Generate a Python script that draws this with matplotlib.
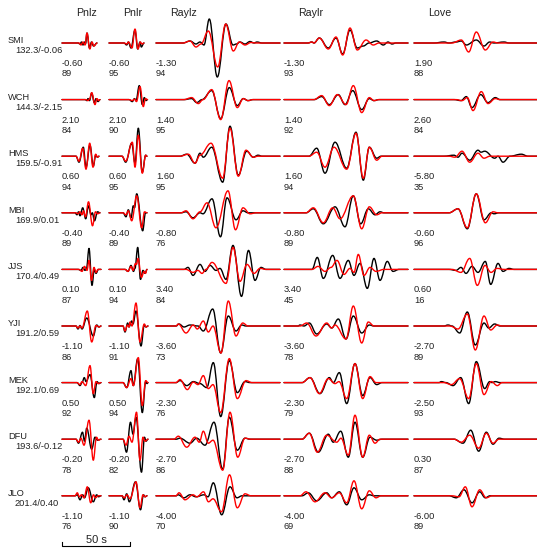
import matplotlib
matplotlib.use("Agg")
import matplotlib.pyplot as plt
from matplotlib.path import Path
from matplotlib.patches import PathPatch

plt.rcParams['font.family'] = ['Liberation Sans', 'DejaVu Sans']

# ---------------- data ----------------
stations = ['SMI', 'WCH', 'HMS', 'MBI', 'JJS', 'YJI', 'MEK', 'DFU', 'JLO']
dist_az = ['132.3/-0.06', '144.3/-2.15', '159.5/-0.91', '169.9/0.01', '170.4/0.49',
           '191.2/0.59', '192.1/0.69', '193.6/-0.12', '201.4/0.40']
components = ['Pnlz', 'Pnlr', 'Raylz', 'Raylr', 'Love']

# time shifts (s) and cross-correlation (%) per component
shift_pnlz = [-0.60, 2.10, 0.60, -0.40, 0.10, -1.10, 0.50, -0.20, -1.10]
shift_pnlr = [-0.60, 2.10, 0.60, -0.40, 0.10, -1.10, 0.50, -0.20, -1.10]
shift_raylz = [-1.30, 1.40, 1.60, -0.80, 3.40, -3.60, -2.30, -2.70, -4.00]
shift_raylr = [-1.30, 1.40, 1.60, -0.80, 3.40, -3.60, -2.30, -2.70, -4.00]
shift_love = [1.90, 2.60, -5.80, -0.60, 0.60, -2.70, -2.50, 0.30, -6.00]
cc_pnlz = [89, 84, 94, 89, 87, 86, 92, 78, 76]
cc_pnlr = [95, 90, 95, 89, 94, 91, 94, 82, 90]
cc_raylz = [94, 95, 95, 76, 84, 73, 76, 86, 70]
cc_raylr = [93, 92, 94, 89, 45, 78, 79, 88, 69]
cc_love = [88, 84, 35, 96, 16, 89, 93, 87, 89]

# waveforms: (time, amplitude) turning points, time unit = 50/68 s
pnlz_obs = [
    [(0,0),(16,0),(18,-1),(19.5,1),(21,-2),(22.5,1),(23.5,-1),(25,10),(27.5,-5),(29.5,1),(31.5,-3),(35,0)],
    [(0,0),(23,0),(25,-1),(26,1),(27.5,-1),(29.7,6.5),(32.3,-3),(34,1),(36,-2),(38,0)],
    [(0,0),(14,0),(17,-6),(21.3,9),(24,-11),(28,11),(31.3,-10),(33.7,1),(35.5,-1),(37,0)],
    [(0,0),(13,0),(15,-2),(16.5,1),(18,-3),(20.7,5),(23.7,-6),(26.5,7),(29,-2),(30.3,0),(32.5,-8),(35.5,1),(38,0)],
    [(0,0),(16,0),(19,-1),(21,2),(23,-1),(24.5,1),(27,21),(30,-16),(32.3,0),(34,-4),(36.5,0),(39,0)],
    [(0,0),(14,0),(16,-3),(18,0.5),(20,-3),(24.7,8),(31.3,-10),(34.7,1),(37,-1),(39,0)],
    [(0,0),(15,0),(18,-3),(20,0),(22.3,5),(24,1),(28,8),(32.3,-15),(35,1),(37,-1),(39,0)],
    [(0,0),(14,0),(16.5,-4),(20.5,7),(22.5,-2),(24.7,11),(29.7,-10),(33,2),(35.5,-1),(39,0)],
    [(0,0),(13,0),(15.3,1),(18,-4),(20.7,1),(22.5,-2),(26.3,8),(31.3,-6),(34.7,1),(36.5,-1),(39,0)],
]
pnlz_syn = [
    [(0,0),(17,0),(19,-2),(21,1),(23,-2),(25,10),(27.8,-6),(30,1),(32,-3),(35,0)],
    [(0,0),(24,0),(26,-1),(27.5,0.5),(29.7,7),(33,-5),(35,1),(36.5,-1),(38,0)],
    [(0,0),(14,0),(17,-5),(20.7,8),(24,-13),(27.7,13),(31,-11),(33.7,2),(35.5,-1),(37,0)],
    [(0,0),(14,0),(16,-1),(18,1),(20,-2),(21.5,2),(23.5,-4),(26.5,11),(30.5,-13),(33.5,1),(35.5,-1),(38,0)],
    [(0,0),(17,0),(20,-2),(22.5,3),(25,-1),(27,9),(29.5,-11),(32,2),(34,-3),(36,0),(39,0)],
    [(0,0),(14,0),(16,-2),(18,0),(20,-2),(25.3,15),(29.7,-16),(34,0.5),(37,-1),(39,0)],
    [(0,0),(15,0),(18,-2),(20,1),(23.7,-3),(28,17),(31.3,-11),(34,1),(36,-1),(39,0)],
    [(0,0),(14,0),(16.5,-3),(19,1),(22,-6),(27,19),(31.3,-21),(34.5,2),(36.5,-1),(39,0)],
    [(0,0),(13,0),(15.3,3),(17.3,-1),(19.5,1),(22,-2),(25.3,9),(28.7,-7),(31.5,1),(33.5,-2),(36,0),(39,0)],
]
pnlr_obs = [
    [(0,0),(15,0),(17.7,-2),(19.3,1),(22,-5),(26,13),(28.7,-6),(31,1),(32.3,-4),(35,0)],
    [(0,0),(20,0),(23.3,-2),(25.5,1),(27,-1),(30.3,14),(33.3,-5),(35.3,2),(37,-1),(38.5,0)],
    [(0,0),(13,0),(16.7,-6),(22.7,13),(26,-7),(29.3,28),(33.3,-16),(36.7,1),(38,0)],
    [(0,0),(14,0),(17,-4),(19.3,3),(22,-5),(24.3,7),(25.5,5),(27.7,19),(33.7,-18),(36.5,0),(38,0)],
    [(0,0),(16,0),(19,-2),(22,4),(24.5,-2),(26,1),(28.7,22),(31.5,-10),(34,-1),(36,-4),(38,0)],
    [(0,0),(14,0),(16,-6),(18.7,3),(20,-1),(22.7,5),(24,2),(27,15),(32,-20),(35.3,1),(37,-1),(39,0)],
    [(0,0),(14,0),(17.7,-5),(22,12),(24.3,-3),(28.7,24),(33.3,-30),(36.7,1),(38,-1),(39,0)],
    [(0,0),(14,0),(17.5,-13),(21.5,17),(24,5),(27,22),(32.5,-33),(35.5,2),(37,-2),(39,0)],
    [(0,0),(13,0),(15,-4),(17.7,2),(20.3,-6),(26.5,14),(31.5,-14),(34.5,1),(36,-1),(38,0)],
]
pnlr_syn = [
    [(0,0),(15,0),(17.7,-1),(19.5,1),(23,-5),(26,14),(29,-6),(31.3,1),(33,-1),(35,0)],
    [(0,0),(20,0),(23.3,-1),(25.5,0.5),(27.5,-2),(31,13),(34.3,-7),(36.5,1),(38.5,0)],
    [(0,0),(13,0),(16.7,-5),(23.3,14),(26,-11),(29.3,21),(33.3,-17),(36.7,1),(38,0)],
    [(0,0),(14,0),(17,-2),(19.3,2),(22.7,-8),(27.7,17),(32.7,-15),(35.5,1),(38,0)],
    [(0,0),(16,0),(19,-2),(22,3),(24,-1),(26.5,6),(27.5,5),(29,11),(32.5,-8),(35,-2),(36.5,-4),(38,0)],
    [(0,0),(14,0),(16,-5),(18.5,1),(20,-1),(21,4),(23,0),(27,23),(31,-16),(35.3,2),(37,-1),(39,0)],
    [(0,0),(14,0),(17.7,-5),(22,4),(24.3,-3),(29.3,25),(33.3,-23),(36.7,2),(39,0)],
    [(0,0),(14,0),(17,-6),(20,3),(23,-3),(27.5,27),(31,-21),(34,2),(36,-2),(39,0)],
    [(0,0),(13,0),(15.3,-2),(18,1),(21,-3),(27,14),(31,-12),(34,1),(36,-1),(38,0)],
]
raylz_obs = [
    [(0,0),(27,0),(34,2),(40,-1),(44,1),(48,-2),(53.3,24),(61.3,-34),(70,19),(77,-2),(80.5,-1),(84,1),(89,-1),(94,1.5),(98,0),(101,1),(106,0),(124,0)],
    [(0,0),(28,0),(35.7,1),(40.7,-3),(46,0),(55.7,9),(64.7,-19),(73.3,12),(81.3,-6),(87.3,1),(92,-1),(97,0),(124,0)],
    [(0,0),(24,0),(30.7,2),(39,-7),(44,3),(47.3,-1),(55.7,9),(66.7,-26),(74,30),(82.3,-19),(90.7,5),(97.3,-1),(102,1),(106,0),(124,0)],
    [(0,0),(25,0),(30,1),(37,-5),(44,0),(47,-1),(56,14),(64.5,-24),(71,15),(80,-7),(87,2),(92,0),(124,0)],
    [(0,0),(28,0),(32,2),(37,-6),(44,5),(49,-2),(54,4),(60,-1),(64,1),(70,-10),(77,24),(85.5,-27),(92.5,19),(99,-11),(105,2),(110,0),(124,0)],
    [(0,0),(20,0),(23,2),(28,-1),(34,1),(42,0),(47.3,-5),(56.7,17),(64.7,-27),(72.3,10),(80,-5),(85.7,1),(90,0),(124,0)],
    [(0,0),(20,0),(24,2),(30.7,-3),(37.3,1),(44,-1),(50.7,-5),(57.3,20),(64.7,-34),(73.3,22),(81.3,-10),(89,1),(94,0),(124,0)],
    [(0,0),(20,0),(24,1),(34,-4),(40.7,1),(49,-6),(58,17),(66.7,-30),(73.3,22),(81.3,-11),(89,1),(94,0),(124,0)],
    [(0,0),(20,0),(22,1),(28,-2),(34,1),(40,-1),(48,1),(52,-1),(57.3,13),(65.7,-19),(74,9),(81,-2),(86,0),(124,0)],
]
raylz_syn = [
    [(0,0),(27,0),(34,2),(40,-4),(45,-1),(52.3,12),(61.7,-24),(69.7,19),(77.3,-8),(83.3,1),(89,-2),(95,0.5),(100,0),(124,0)],
    [(0,0),(28,0),(35.7,2),(42.3,-4),(47,0),(55.7,10),(64.7,-20),(73,19),(81.3,-8),(87.3,1),(92,-1),(97,0),(124,0)],
    [(0,0),(24,0),(32.3,2),(39,-7),(44,1),(55,13),(66.7,-22),(74,28),(82.3,-20),(90,6),(97.3,-1),(102,0),(124,0)],
    [(0,0),(25,0),(30,2),(37,-6),(44,1),(51,10),(60,-15),(72,22),(79.5,-17),(87,5),(94,-1),(100,0),(124,0)],
    [(0,0),(30,0),(37,-3),(42,-1),(46,-4),(50,0),(56,7),(70,-14),(77,22),(84,-12),(91,5),(98,-4),(104,1),(110,0),(124,0)],
    [(0,0),(20,0),(22.3,2),(30,-7),(37.3,1),(41.3,-3),(47.3,5),(52.3,-6),(57,0),(65,-27),(72.3,25),(80,-10),(86.7,3),(92,0),(124,0)],
    [(0,0),(20,0),(24,3),(31.3,-7),(37.3,0.5),(42,-2),(47.3,7),(52.3,-6),(57,-2),(64.7,-30),(73.3,24),(81.3,-16),(90,2),(96,0),(124,0)],
    [(0,0),(18,0),(22.3,3),(30.7,-8),(39,2),(43.3,-3),(47.3,8),(52.3,-4),(57,-1),(66.7,-31),(74,27),(81.7,-18),(89,1),(95,0),(124,0)],
    [(0,0),(20,0),(23,3),(29,-4),(37,1),(41,-1),(47.5,4),(52.5,-6),(57,-3),(65.5,-16),(73.5,21),(81.3,-12),(89,2),(95,0),(124,0)],
]
raylr_obs = [
    [(0,0),(24,0),(27.7,1),(30,0),(35.3,5),(44.3,-5),(52,5),(58.7,-11),(66,13),(73.3,-5),(79.3,-3),(85,0),(92.7,2),(99.3,-2),(104,1),(108,-1),(112,0),(124,0)],
    [(0,0),(30,0),(37.7,3),(45.3,-5),(54.3,5),(61,-5),(68.7,9),(77.7,-10),(85.3,1),(90,-1),(95,0),(124,0)],
    [(0,0),(25,0),(32.7,8),(41,-17),(51,14),(62.7,-12),(72,24),(79.3,-24),(85.3,9),(92.7,-2),(97,0),(124,0)],
    [(0,0),(22,0),(29.3,4),(39.3,-11),(51,6),(61,-14),(69.3,17),(76.7,-11),(84.3,4),(91,-2),(96,1),(100,0),(124,0)],
    [(0,0),(28,0),(33.3,12),(39.3,-9),(48.7,14),(56,-9),(64.3,9),(70,-6),(76,6),(83.3,-19),(90,11),(96,-11),(103.3,8),(109,-2),(115,0),(124,0)],
    [(0,0),(14,0),(16,1),(20,0),(25.3,3),(32.7,-8),(42.7,2),(47.7,-2),(54.3,7),(62,-13),(69.3,10),(77.7,-7),(85.3,1),(90,0),(124,0)],
    [(0,0),(18,0),(26,5),(36,-11),(45.3,5),(49.3,0),(55.3,10),(62.7,-21),(71,19),(78.7,-13),(86,5),(92.7,-2),(98,0),(124,0)],
    [(0,0),(18,0),(25.3,6),(34.3,-13),(44.3,5),(49.3,-3),(56.7,8),(64.3,-18),(71,17),(78.7,-18),(86,2),(92.7,-1),(98,0),(124,0)],
    [(0,0),(18,0),(24.3,3),(32.7,-5),(42.7,3),(47.7,-2),(55.3,4),(62.7,-9),(70,8),(77.7,-4),(85.3,1),(90,0),(124,0)],
]
raylr_syn = [
    [(0,0),(24,0),(28,1),(30,0),(35.3,5),(44.3,-6),(52,6),(58.7,-12),(66,15),(73.3,-7),(82,3),(89.3,-2),(95,0),(124,0)],
    [(0,0),(30,0),(37.7,4),(45.3,-6),(53.3,5),(62,-5),(69.3,14),(77.7,-13),(85.3,2),(90,-1),(95,0),(124,0)],
    [(0,0),(25,0),(32.7,4),(41,-11),(50,9),(62.7,-13),(72,23),(79.3,-22),(85.3,9),(92.7,-4),(98,0),(124,0)],
    [(0,0),(22,0),(29.3,5),(39.3,-10),(48.7,5),(56,-6),(69.3,17),(77.7,-16),(85.3,6),(92.7,-2),(98,0),(124,0)],
    [(0,0),(28,0),(34,3),(41,-2),(47,2),(53,9),(60,-5),(66,1),(70,-3),(74.3,15),(80,-6),(86,2),(92,-2),(100,0),(124,0)],
    [(0,0),(16,0),(22.7,3),(32,-10),(42.7,3),(47.7,-2),(51,1),(62,-13),(69.3,20),(77.7,-17),(84.3,4),(90,0),(124,0)],
    [(0,0),(18,0),(26,5),(35.3,-11),(44.3,4),(51,-1),(55,1),(62.7,-16),(71,19),(78.7,-16),(86,6),(92,0),(124,0)],
    [(0,0),(18,0),(25.3,6),(33.3,-13),(42.7,4),(52.7,-3),(57,1),(64.3,-16),(71,24),(78.7,-18),(85.3,4),(91,-4),(96,0),(124,0)],
    [(0,0),(16,0),(22,4),(31,-6),(41,3),(47.7,-2),(55.3,3),(62.7,-7),(70,15),(77.7,-13),(85.3,5),(92,-2),(97,0),(124,0)],
]
love_obs = [
    [(0,0),(20,0),(30,1),(35,0),(42,1),(47.3,2),(52.3,-2),(62.3,3),(70,-3),(75.7,1),(80,0),(90,1),(95,0),(124,0)],
    [(0,0),(40,0),(47,-1),(52.3,3),(58,-8),(66.7,5),(74,-3),(81.3,2),(86,0),(124,0)],
    [(0,0),(30,0),(40,1),(44,-1),(48,3),(55.7,-4),(64,6),(67,4),(70.7,5),(80.7,-2),(84,0),(89,-6),(96,0),(107.3,2),(114,0),(124,0)],
    [(0,0),(35,0),(44,4),(53.3,-16),(62.3,19),(70,-7),(77.3,0),(80,-1),(85,0),(124,0)],
    [(0,0),(35,0),(42,-1),(47,2),(52,-4),(58,3),(64,-3),(71.3,8),(76.7,-15),(84,6),(89,-2),(95,1),(100,0),(124,0)],
    [(0,0),(30,0),(34,1),(38,0),(45.7,-7),(53.3,14),(61.3,-19),(70,3),(74.7,-2),(80.7,2),(86,0),(124,0)],
    [(0,0),(25,0),(27.3,1),(32,0),(39,-3),(46.7,5),(54.7,-21),(62.3,21),(70.7,-6),(75.7,1),(78,0),(81.3,1),(86,0),(124,0)],
    [(0,0),(40,0),(49,-4),(56.7,9),(64.7,-12),(72.3,7),(79,-5),(85,1),(90.7,0),(124,0)],
    [(0,0),(35,0),(42.3,-2),(50,6),(58,-7),(65.7,4),(71.3,-2),(76,0),(124,0)],
]
love_syn = [
    [(0,0),(38,0),(47.3,3),(54.7,-9),(62.3,11),(71.3,-7),(79,1),(84,0),(124,0)],
    [(0,0),(42,0),(48,-1),(53.3,2),(59,-11),(67.3,8),(74,-4),(81.3,1),(86,0),(124,0)],
    [(0,0),(35,0),(41,-1),(48,5),(55.7,-6),(64,3),(70,-2),(76,0),(124,0)],
    [(0,0),(35,0),(44,4),(53.3,-15),(62.3,19),(71.3,-10),(79,1),(84,0),(124,0)],
    [(0,0),(38,0),(47,-3),(55.7,11),(63.3,-16),(71,4),(77,-3),(83,1),(90,0),(124,0)],
    [(0,0),(36,0),(44,-3),(53.3,12),(61.3,-24),(70,10),(76.7,-4),(83.3,1),(88,0),(124,0)],
    [(0,0),(30,0),(37.3,-2),(45.7,4),(54.7,-16),(62.3,19),(70,-12),(77.3,1),(83.3,-3),(88,0),(124,0)],
    [(0,0),(40,0),(47.3,-3),(55.7,4),(64.7,-9),(72.3,6),(79,-4),(85,0),(124,0)],
    [(0,0),(38,0),(45,-1),(51.3,9),(58,-11),(65.7,6),(72.3,-2),(78,0),(124,0)],
]

obs = [pnlz_obs, pnlr_obs, raylz_obs, raylr_obs, love_obs]
syn = [pnlz_syn, pnlr_syn, raylz_syn, raylr_syn, love_syn]
shifts = [shift_pnlz, shift_pnlr, shift_raylz, shift_raylr, shift_love]
ccs = [cc_pnlz, cc_pnlr, cc_raylz, cc_raylr, cc_love]

sec_per_unit = 50 / 68
scale_bar_sec = 50

# ---------------- layout ----------------
W, H = 537, 548
col_x0 = [62, 109, 156, 284, 414]
row_y0 = 43
row_dy = 56.6

fig = plt.figure(figsize=(W / 100, H / 100), dpi=100)
ax = fig.add_axes([0, 0, 1, 1])
ax.set_xlim(0, W)
ax.set_ylim(H, 0)
ax.axis('off')


def trace_path(pts, x0, y0):
    verts = [(x0 + pts[0][0], y0 - pts[0][1])]
    codes = [Path.MOVETO]
    for (ta, aa), (tb, ab) in zip(pts[:-1], pts[1:]):
        d = (tb - ta) * 0.38
        verts += [(x0 + ta + d, y0 - aa), (x0 + tb - d, y0 - ab), (x0 + tb, y0 - ab)]
        codes += [Path.CURVE4] * 3
    return Path(verts, codes)


fs = 6.7
for j, comp in enumerate(components):
    ax.text(col_x0[j] + 14, 16, comp, fontsize=7.7, color='#222222', va='baseline')

for i, st in enumerate(stations):
    y0 = row_y0 + i * row_dy
    ax.text(8, y0, st, fontsize=fs, color='#222222', va='baseline')
    ax.text(15, y0 + 10, dist_az[i], fontsize=fs, color='#222222', va='baseline')
    for j in range(len(components)):
        x0 = col_x0[j]
        ax.add_patch(PathPatch(trace_path(obs[j][i], x0, y0), fill=False,
                               ec='black', lw=1.0, capstyle='round', joinstyle='round'))
        ax.add_patch(PathPatch(trace_path(syn[j][i], x0, y0), fill=False,
                               ec='#ff0000', lw=1.0, capstyle='round', joinstyle='round'))
        ax.text(x0, y0 + 23, '%.2f' % shifts[j][i], fontsize=fs, color='#222222', va='baseline')
        ax.text(x0, y0 + 33.5, '%d' % ccs[j][i], fontsize=fs, color='#222222', va='baseline')

# scale bar
bar_len = scale_bar_sec / sec_per_unit
bx, by = col_x0[0], 546
ax.plot([bx, bx, bx + bar_len, bx + bar_len], [by - 4, by, by, by - 4], color='black', lw=0.8)
ax.text(bx + bar_len / 2, 543, '50 s', fontsize=8, ha='center', va='baseline', color='#222222')

fig.savefig('out.png', dpi=100)
